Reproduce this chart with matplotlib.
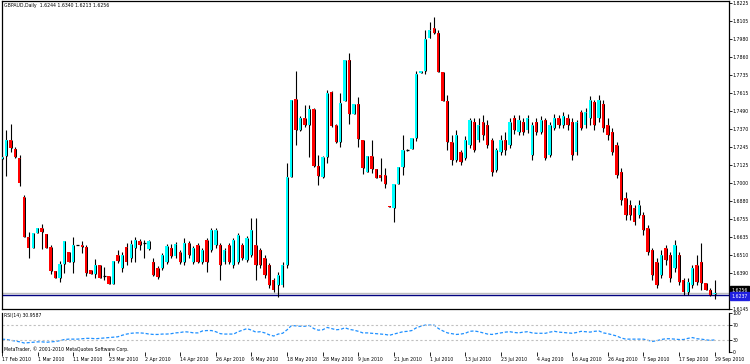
import matplotlib
matplotlib.use("Agg")
import matplotlib.pyplot as plt
from matplotlib.patches import Rectangle
from matplotlib.transforms import blended_transform_factory

# ---------------- data ----------------
opens = [
    1.7165, 1.7185, 1.7294, 1.7233, 1.7172, 1.6906, 1.6634, 1.6560, 1.6662, 1.6696,
    1.6655, 1.6566, 1.6403, 1.6356, 1.6451, 1.6532, 1.6464, 1.6580, 1.6580, 1.6566,
    1.6410, 1.6383, 1.6444, 1.6369, 1.6369, 1.6315, 1.6512, 1.6424, 1.6566, 1.6492,
    1.6560, 1.6607, 1.6594, 1.6553, 1.6464, 1.6424, 1.6424, 1.6464, 1.6560, 1.6505,
    1.6532, 1.6464, 1.6594, 1.6464, 1.6580, 1.6464, 1.6614, 1.6546, 1.6580, 1.6580,
    1.6464, 1.6580, 1.6444, 1.6464, 1.6580, 1.6478, 1.6512, 1.6580, 1.6546, 1.6492,
    1.6444, 1.6342, 1.6308, 1.6308, 1.6444, 1.7042, 1.7573, 1.7362, 1.7444, 1.7396,
    1.7505, 1.7117, 1.7042, 1.7178, 1.7620, 1.7396, 1.7280, 1.7559, 1.7838, 1.7471,
    1.7539, 1.7294, 1.7076, 1.7185, 1.7097, 1.7056, 1.7056, 1.6845, 1.6832, 1.6995,
    1.7110, 1.7226, 1.7233, 1.7308, 1.7750, 1.7763, 1.7988, 1.8056, 1.8022, 1.7756,
    1.7559, 1.7280, 1.7158, 1.7212, 1.7172, 1.7260, 1.7416, 1.7294, 1.7416, 1.7396,
    1.7294, 1.7090, 1.7212, 1.7294, 1.7260, 1.7444, 1.7348, 1.7416, 1.7362, 1.7192,
    1.7416, 1.7348, 1.7430, 1.7192, 1.7376, 1.7444, 1.7396, 1.7444, 1.7416, 1.7212,
    1.7484, 1.7396, 1.7444, 1.7552, 1.7444, 1.7539, 1.7396, 1.7348, 1.7260, 1.7076,
    1.6900, 1.6852, 1.6832, 1.6784, 1.6784, 1.6696, 1.6546, 1.6464, 1.6376, 1.6560,
    1.6512, 1.6424, 1.6512, 1.6342, 1.6260, 1.6308, 1.6444, 1.6464, 1.6322, 1.6274,
    1.6244]
highs = [
    1.7192, 1.7362, 1.7403, 1.7246, 1.7192, 1.6920, 1.6668, 1.6662, 1.6696, 1.6723,
    1.6655, 1.6580, 1.6403, 1.6471, 1.6607, 1.6532, 1.6634, 1.6583, 1.6607, 1.6580,
    1.6410, 1.6485, 1.6444, 1.6430, 1.6369, 1.6471, 1.6546, 1.6532, 1.6594, 1.6614,
    1.6634, 1.6621, 1.6614, 1.6614, 1.6492, 1.6437, 1.6526, 1.6587, 1.6587, 1.6600,
    1.6546, 1.6628, 1.6607, 1.6573, 1.6594, 1.6560, 1.6628, 1.6696, 1.6696, 1.6594,
    1.6560, 1.6594, 1.6628, 1.6662, 1.6594, 1.6641, 1.6764, 1.6764, 1.6560, 1.6512,
    1.6458, 1.6356, 1.6396, 1.6464, 1.7138, 1.7566, 1.7763, 1.7457, 1.7532, 1.7532,
    1.7512, 1.7192, 1.7185, 1.7634, 1.7627, 1.7403, 1.7614, 1.7838, 1.7886, 1.7539,
    1.7586, 1.7294, 1.7185, 1.7294, 1.7097, 1.7172, 1.7104, 1.6845, 1.6995, 1.7110,
    1.7328, 1.7230, 1.7308, 1.7763, 1.7763, 1.8042, 1.8096, 1.8130, 1.8042, 1.7756,
    1.7600, 1.7328, 1.7362, 1.7226, 1.7321, 1.7444, 1.7444, 1.7444, 1.7464, 1.7430,
    1.7308, 1.7240, 1.7328, 1.7348, 1.7444, 1.7464, 1.7464, 1.7444, 1.7464, 1.7416,
    1.7444, 1.7457, 1.7444, 1.7416, 1.7471, 1.7464, 1.7484, 1.7471, 1.7444, 1.7430,
    1.7498, 1.7512, 1.7593, 1.7566, 1.7600, 1.7566, 1.7444, 1.7376, 1.7280, 1.7104,
    1.6940, 1.6886, 1.6852, 1.6886, 1.6804, 1.6716, 1.6560, 1.6492, 1.6546, 1.6580,
    1.6532, 1.6614, 1.6532, 1.6356, 1.6356, 1.6444, 1.6512, 1.6594, 1.6322, 1.6288,
    1.6340]
lows = [
    1.7158, 1.7049, 1.7212, 1.7172, 1.6981, 1.6634, 1.6492, 1.6560, 1.6662, 1.6553,
    1.6560, 1.6383, 1.6356, 1.6328, 1.6390, 1.6464, 1.6390, 1.6578, 1.6526, 1.6369,
    1.6383, 1.6356, 1.6356, 1.6342, 1.6315, 1.6315, 1.6458, 1.6396, 1.6444, 1.6464,
    1.6464, 1.6546, 1.6492, 1.6546, 1.6369, 1.6349, 1.6410, 1.6451, 1.6492, 1.6492,
    1.6451, 1.6444, 1.6492, 1.6451, 1.6458, 1.6451, 1.6396, 1.6532, 1.6560, 1.6342,
    1.6451, 1.6451, 1.6424, 1.6451, 1.6478, 1.6464, 1.6498, 1.6342, 1.6424, 1.6356,
    1.6288, 1.6260, 1.6226, 1.6294, 1.6424, 1.7042, 1.7260, 1.7355, 1.7382, 1.7178,
    1.7110, 1.6988, 1.7036, 1.7138, 1.7382, 1.7274, 1.7246, 1.7559, 1.7403, 1.7471,
    1.7246, 1.7063, 1.7076, 1.7070, 1.7036, 1.7015, 1.6968, 1.6838, 1.6736, 1.6995,
    1.7056, 1.7222, 1.7233, 1.7287, 1.7750, 1.7743, 1.7988, 1.8015, 1.7756, 1.7559,
    1.7226, 1.7124, 1.7144, 1.7124, 1.7158, 1.7240, 1.7212, 1.7280, 1.7294, 1.7240,
    1.7049, 1.7076, 1.7192, 1.7192, 1.7240, 1.7335, 1.7328, 1.7328, 1.7342, 1.7158,
    1.7328, 1.7335, 1.7158, 1.7178, 1.7362, 1.7376, 1.7376, 1.7362, 1.7158, 1.7192,
    1.7362, 1.7376, 1.7396, 1.7362, 1.7416, 1.7348, 1.7294, 1.7192, 1.7036, 1.6852,
    1.6750, 1.6750, 1.6716, 1.6764, 1.6648, 1.6512, 1.6342, 1.6288, 1.6356, 1.6444,
    1.6328, 1.6396, 1.6308, 1.6240, 1.6240, 1.6288, 1.6308, 1.6274, 1.6274, 1.6233,
    1.6213]
closes = [
    1.7178, 1.7294, 1.7240, 1.7178, 1.7002, 1.6634, 1.6560, 1.6662, 1.6696, 1.6668,
    1.6560, 1.6403, 1.6356, 1.6451, 1.6607, 1.6464, 1.6580, 1.6580, 1.6566, 1.6390,
    1.6383, 1.6444, 1.6356, 1.6369, 1.6315, 1.6471, 1.6471, 1.6512, 1.6464, 1.6587,
    1.6614, 1.6580, 1.6594, 1.6607, 1.6376, 1.6362, 1.6512, 1.6573, 1.6505, 1.6587,
    1.6464, 1.6594, 1.6512, 1.6560, 1.6464, 1.6546, 1.6464, 1.6682, 1.6682, 1.6444,
    1.6546, 1.6464, 1.6614, 1.6648, 1.6492, 1.6628, 1.6682, 1.6444, 1.6444, 1.6376,
    1.6308, 1.6274, 1.6376, 1.6444, 1.7042, 1.7566, 1.7362, 1.7444, 1.7396, 1.7505,
    1.7117, 1.7049, 1.7178, 1.7614, 1.7389, 1.7280, 1.7546, 1.7838, 1.7471, 1.7539,
    1.7301, 1.7104, 1.7185, 1.7097, 1.7036, 1.7036, 1.6995, 1.6838, 1.6995, 1.7110,
    1.7226, 1.7226, 1.7308, 1.7743, 1.7763, 1.7981, 1.8042, 1.8022, 1.7756, 1.7559,
    1.7280, 1.7158, 1.7328, 1.7144, 1.7294, 1.7430, 1.7226, 1.7396, 1.7328, 1.7260,
    1.7076, 1.7226, 1.7294, 1.7226, 1.7416, 1.7362, 1.7430, 1.7348, 1.7444, 1.7396,
    1.7348, 1.7430, 1.7172, 1.7396, 1.7444, 1.7396, 1.7457, 1.7396, 1.7192, 1.7416,
    1.7376, 1.7484, 1.7566, 1.7396, 1.7566, 1.7376, 1.7328, 1.7212, 1.7056, 1.6886,
    1.6784, 1.6784, 1.6736, 1.6852, 1.6682, 1.6532, 1.6376, 1.6308, 1.6512, 1.6478,
    1.6356, 1.6580, 1.6328, 1.6260, 1.6328, 1.6424, 1.6328, 1.6322, 1.6274, 1.6240,
    1.6256]
rsi = [
    33, 32, 30, 28, 26, 23, 24, 25, 26, 26,
    25, 26, 27, 29, 32, 33, 33, 33, 34, 35,
    35, 34, 35, 36, 37, 38, 39, 43, 46, 48,
    49, 49, 48, 46, 45, 45, 46, 46, 47, 49,
    50, 52, 51, 49, 49, 54, 55, 55, 52, 47,
    46, 46, 46, 52, 56, 60, 56, 51, 52, 49,
    44, 41, 46, 48, 57, 68, 67, 66, 66, 68,
    60, 56, 57, 63, 60, 57, 58, 62, 58, 56,
    53, 49, 49, 48, 47, 46, 45, 43, 46, 49,
    52, 53, 55, 62, 66, 69, 69, 69, 60, 54,
    49, 47, 45, 46, 48, 53, 54, 52, 49, 46,
    45, 47, 49, 51, 52, 50, 49, 51, 52, 49,
    48, 48, 48, 51, 53, 51, 50, 49, 48, 50,
    53, 52, 51, 53, 54, 49, 47, 44, 41, 36,
    33, 33, 33, 33, 33, 30, 27, 29, 32, 34,
    34, 33, 32, 32, 35, 37, 34, 33, 31, 30,
    31]
date_labels = ["17 Feb 2010", "1 Mar 2010", "11 Mar 2010", "23 Mar 2010", "2 Apr 2010",
               "14 Apr 2010", "26 Apr 2010", "6 May 2010", "18 May 2010", "28 May 2010",
               "9 Jun 2010", "21 Jun 2010", "1 Jul 2010", "13 Jul 2010", "23 Jul 2010",
               "4 Aug 2010", "16 Aug 2010", "26 Aug 2010", "7 Sep 2010", "17 Sep 2010",
               "29 Sep 2010"]
date_step = 8
price_ticks = [1.8225, 1.8105, 1.7980, 1.7860, 1.7735, 1.7615, 1.7490, 1.7370, 1.7245,
               1.7125, 1.7000, 1.6880, 1.6755, 1.6635, 1.6510, 1.6390, 1.6145]
rsi_ticks = [100, 70, 30, 0]
rsi_levels = [70, 30]
bid_price = 1.6256
hline_price = 1.6237
title_text = "GBPAUD,Daily  1.6244 1.6340 1.6213 1.6256"
rsi_text = "RSI(14) 30.9587"
copyright_text = "MetaTrader, \u00a9 2001-2010 MetaQuotes Software Corp."

# ---------------- layout ----------------
W, H = 750, 364
FS = 3.3
fig = plt.figure(figsize=(W / 100, H / 100), dpi=100)
fig.patch.set_facecolor("white")
ax = fig.add_axes([2 / W, (H - 309) / H, 727 / W, 308 / H])
axr = fig.add_axes([2 / W, (H - 352) / H, 727 / W, 39 / H])

n = len(closes)
xlim = (0.05, 163.2)

# candles
bw = 0.64
for i in range(n):
    o, h, l, c = opens[i], highs[i], lows[i], closes[i]
    ax.vlines(i, l, h, color="black", lw=0.8, zorder=2)
    if abs(c - o) < 0.0002:
        ax.hlines(o, i - bw / 2, i + bw / 2, color="black", lw=0.9, zorder=4)
        continue
    col = "#00FFFF" if c > o else "#FF0000"
    ax.add_patch(Rectangle((i - bw / 2, min(o, c)), bw, abs(c - o),
                           facecolor=col, edgecolor="none", zorder=3))
    ax.vlines(i + 0.2, min(o, c), max(o, c), color="black", lw=0.7, zorder=4)

ax.axhline(bid_price, color="#BEBEBE", lw=1.0, zorder=1)
ax.axhline(hline_price, color="#000080", lw=1.0, zorder=1)

ax.set_xlim(*xlim)
ax.set_ylim(1.6145, 1.8239)
ax.set_xticks([])
ax.yaxis.tick_right()
ax.set_yticks(price_ticks)
ax.set_yticklabels([f"{v:.4f}" for v in price_ticks])
ax.tick_params(axis="y", labelsize=FS, length=2, width=0.6, pad=0.8, colors="black")
for s in ax.spines.values():
    s.set_color("black")
    s.set_linewidth(0.9)

tr = blended_transform_factory(ax.transAxes, ax.transData)
ax.text(1.003, bid_price + 0.0018, f"{bid_price:.4f}", transform=tr, fontsize=FS,
        color="white", va="center", ha="left", zorder=6, clip_on=False,
        bbox=dict(boxstyle="square,pad=0.25", facecolor="black", edgecolor="black"))
ax.text(1.003, hline_price - 0.0004, f"{hline_price:.4f}", transform=tr, fontsize=FS,
        color="white", va="center", ha="left", zorder=6, clip_on=False,
        bbox=dict(boxstyle="square,pad=0.25", facecolor="#2020E0", edgecolor="#2020E0"))

# RSI panel
axr.plot(range(n), rsi, color="#1E90FF", lw=0.9, linestyle=(0, (2.5, 1.5)))
for lv in rsi_levels:
    axr.axhline(lv, color="#C0C0C0", lw=0.8, linestyle=(0, (2, 2)))
axr.set_xlim(*xlim)
axr.set_ylim(0, 100)
axr.yaxis.tick_right()
axr.set_yticks(rsi_ticks)
axr.set_yticklabels([str(v) for v in rsi_ticks])
axr.tick_params(axis="y", labelsize=FS, length=2, width=0.6, pad=0.8)
pos = list(range(0, n, date_step))[:len(date_labels)]
axr.set_xticks(pos)
axr.set_xticklabels(date_labels, ha="left")
axr.tick_params(axis="x", labelsize=FS, length=3, width=0.6, pad=0.5, direction="out")
axr.spines["top"].set_visible(False)
axr.spines["bottom"].set_visible(False)
for s in ("left", "right"):
    axr.spines[s].set_color("black")
    axr.spines[s].set_linewidth(0.9)

fig.text(4 / W, 1 - 6 / H, title_text, fontsize=FS, color="black", va="center", ha="left")
fig.text(4 / W, 1 - 316 / H, rsi_text, fontsize=FS, color="black", va="center", ha="left")
fig.text(4 / W, 1 - 349 / H, copyright_text, fontsize=FS, color="black", va="center", ha="left")

fig.savefig("out.png", dpi=100, facecolor="white")
